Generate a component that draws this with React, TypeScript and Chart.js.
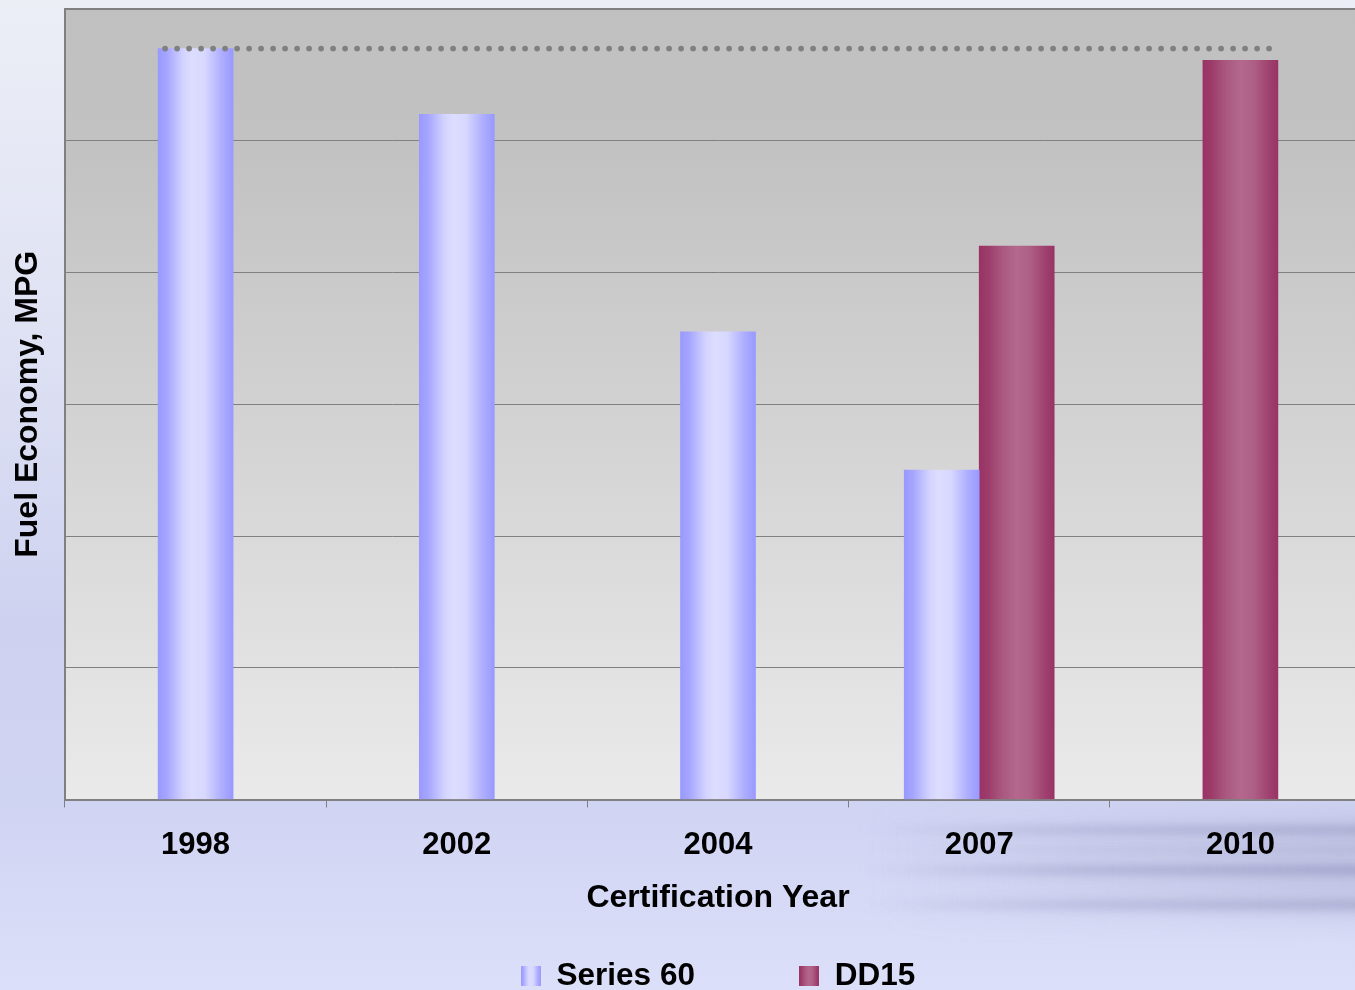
import React, { useEffect, useRef } from 'react';
import { Chart, registerables } from 'chart.js';

Chart.register(...registerables);

// ---- data ----
const categories = ['1998', '2002', '2004', '2007', '2010'];
const seriesNames = ['Series 60', 'DD15'];
const series60Values = [5.7, 5.2, 3.55, 2.5, null];
const dd15Values = [null, null, null, 4.2, 5.61];
const referenceLevel = [5.7];
const yRange = [0, 6];
const yStep = [1];
const xTitle = 'Certification Year';
const yTitle = 'Fuel Economy, MPG';

// ---- styles ----
const FONT = "'Liberation Sans', Arial, Helvetica, sans-serif";
const S60_STOPS: [number, string][] = [
  [0, '#9999FF'], [0.12, '#A6A6FF'], [0.33, '#D2D2FF'], [0.45, '#DDDDFF'],
  [0.62, '#D8D8FF'], [0.84, '#AFAFFF'], [1, '#9999FF'],
];
const DD15_STOPS: [number, string][] = [
  [0, '#993366'], [0.12, '#9D3C6B'], [0.3, '#A9577F'], [0.5, '#B4688D'],
  [0.68, '#AE5F86'], [0.88, '#9F416F'], [1, '#993366'],
];
const STOPS = [S60_STOPS, DD15_STOPS];

function makeSwatch(stops: [number, string][]) {
  const c = document.createElement('canvas');
  c.width = 20;
  c.height = 20;
  const g = c.getContext('2d')!;
  const gr = g.createLinearGradient(0, 0, 20, 0);
  stops.forEach(([o, col]) => gr.addColorStop(o, col));
  g.fillStyle = gr;
  g.fillRect(0, 0, 20, 20);
  return c;
}

const bgPlugin = {
  id: 'pageBg',
  beforeDraw(chart: any) {
    const { ctx, width, height, chartArea: a } = chart;
    ctx.save();
    const g = ctx.createLinearGradient(0, 0, 0, height);
    g.addColorStop(0, '#ECEEF6');
    g.addColorStop(0.35, '#DEE1F3');
    g.addColorStop(0.62, '#CED2F0');
    g.addColorStop(0.8, '#D0D4F3');
    g.addColorStop(1, '#DCE0F9');
    ctx.fillStyle = g;
    ctx.fillRect(0, 0, width, height);

    // soft darker haze lower right
    ctx.filter = 'blur(14px)';
    const h = ctx.createLinearGradient(880, 0, 1355, 0);
    h.addColorStop(0, 'rgba(175,177,212,0)');
    h.addColorStop(1, 'rgba(175,177,212,0.5)');
    ctx.fillStyle = h;
    ctx.fillRect(880, 815, 600, 100);

    // streaks
    ctx.filter = 'blur(4px)';
    const bands = [
      [830, 8, 0.5],
      [850, 6, 0.25],
      [870, 10, 0.55],
      [905, 9, 0.45],
    ];
    bands.forEach(([y, hh, al]) => {
      const sg = ctx.createLinearGradient(860, 0, 1355, 0);
      sg.addColorStop(0, 'rgba(140,140,185,0)');
      sg.addColorStop(0.45, `rgba(140,140,185,${al * 0.7})`);
      sg.addColorStop(1, `rgba(140,140,185,${al})`);
      ctx.fillStyle = sg;
      ctx.fillRect(860, y - hh / 2, 620, hh);
    });
    ctx.filter = 'none';

    // plot area
    const pg = ctx.createLinearGradient(0, a.top, 0, a.bottom);
    pg.addColorStop(0, '#C0C0C0');
    pg.addColorStop(0.18, '#C2C2C2');
    pg.addColorStop(1, '#EAEAEA');
    ctx.fillStyle = pg;
    ctx.fillRect(a.left, a.top, a.right - a.left, a.bottom - a.top);
    ctx.restore();
  },
};

const barGradientPlugin = {
  id: 'barGradient',
  beforeDatasetsDraw(chart: any) {
    const { ctx } = chart;
    chart.data.datasets.forEach((ds: any, di: number) => {
      const meta = chart.getDatasetMeta(di);
      meta.data.forEach((el: any, i: number) => {
        if (ds.data[i] == null) return;
        const left = el.x - el.width / 2;
        if (!isFinite(left) || !isFinite(el.width)) return;
        const gr = ctx.createLinearGradient(left, 0, left + el.width, 0);
        STOPS[di].forEach(([o, col]) => gr.addColorStop(o, col));
        el.options = Object.assign({}, el.options, { backgroundColor: gr });
      });
    });
  },
};

const refLinePlugin = {
  id: 'refLine',
  afterDatasetsDraw(chart: any) {
    const { ctx } = chart;
    const y = chart.scales.y.getPixelForValue(referenceLevel[0]);
    const first = chart.getDatasetMeta(0).data[0];
    const lastMeta = chart.getDatasetMeta(1);
    const last = lastMeta.data[lastMeta.data.length - 1];
    const x0 = first.x - first.width / 2 + 7;
    const x1 = last.x + last.width / 2 - 2;
    ctx.save();
    ctx.fillStyle = '#808080';
    for (let x = x0; x <= x1; x += 12) {
      ctx.beginPath();
      ctx.arc(x, y, 2.9, 0, Math.PI * 2);
      ctx.fill();
    }
    ctx.restore();
  },
};

export default function App() {
  const ref = useRef<HTMLCanvasElement>(null);
  useEffect(() => {
    const canvas = ref.current!;
    const tickFont = { family: FONT, size: 31, weight: 'bold' as const };
    const titleFont = { family: FONT, size: 32, weight: 'bold' as const };
    const legendFont = { family: FONT, size: 31.5, weight: 'bold' as const };
    const sw60 = makeSwatch(S60_STOPS);
    const swDD = makeSwatch(DD15_STOPS);
    const chart = new Chart(canvas, {
      type: 'bar',
      data: {
        labels: categories,
        datasets: [
          { label: seriesNames[0], data: series60Values, backgroundColor: '#BBBBFF', borderWidth: 0 },
          { label: seriesNames[1], data: dd15Values, backgroundColor: '#A85080', borderWidth: 0 },
        ],
      },
      options: {
        responsive: false,
        animation: false,
        devicePixelRatio: 1,
        layout: { padding: { top: 9, right: 79, left: 0, bottom: 0 } },
        datasets: { bar: { barThickness: 75, skipNull: true } as any },
        scales: {
          x: {
            grid: {
              drawOnChartArea: false,
              drawTicks: true,
              tickLength: 8,
              tickColor: '#808080',
              tickWidth: 1,
              offset: true,
            },
            border: { display: true, color: '#808080', width: 2 },
            ticks: { color: '#000', font: tickFont, padding: 19, maxRotation: 0, autoSkip: false },
            title: { display: true, text: xTitle, color: '#000', font: titleFont, padding: { top: 0, bottom: -61 } },
            afterFit: (s: any) => {
              s.height = 57;
            },
          },
          y: {
            min: yRange[0],
            max: yRange[1],
            ticks: { display: false, stepSize: yStep[0] },
            grid: {
              color: '#808080',
              lineWidth: (c: any) => (c.tick && c.tick.value === yRange[1] ? 2 : 1),
              drawTicks: false,
              tickLength: 0,
            },
            border: { display: true, color: '#808080', width: 2 },
            title: { display: true, text: yTitle, color: '#000', font: titleFont, padding: { top: 9, bottom: 0 } },
            afterFit: (s: any) => {
              s.width = 65;
            },
          },
        },
        plugins: {
          tooltip: { enabled: false },
          legend: {
            position: 'bottom',
            fullSize: false,
            labels: {
              color: '#000',
              font: legendFont,
              boxWidth: 20,
              boxHeight: 20,
              usePointStyle: true,
              padding: 104,
              generateLabels: () => [
                { text: seriesNames[0], pointStyle: sw60, fillStyle: '#BBBBFF', strokeStyle: 'rgba(0,0,0,0)', lineWidth: 0, hidden: false, datasetIndex: 0, fontColor: '#000' } as any,
                { text: seriesNames[1], pointStyle: swDD, fillStyle: '#A85080', strokeStyle: 'rgba(0,0,0,0)', lineWidth: 0, hidden: false, datasetIndex: 1, fontColor: '#000' } as any,
              ],
            },
          },
        },
      },
      plugins: [bgPlugin, barGradientPlugin, refLinePlugin],
    });
    return () => chart.destroy();
  }, []);
  return (
    <div style={{ position: 'fixed', left: 0, top: 0, width: 1355, height: 990, overflow: 'hidden' }}>
      <canvas ref={ref} width={1450} height={1002} style={{ display: 'block', width: 1450, height: 1002 }} />
    </div>
  );
}
